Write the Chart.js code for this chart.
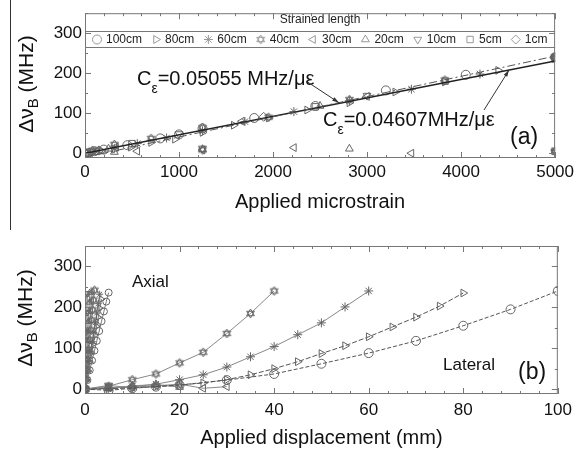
<!DOCTYPE html>
<html>
<head>
<meta charset="utf-8">
<script src="https://cdn.jsdelivr.net/npm/chart.js@4/dist/chart.umd.min.js"></script>
<style>
  body { margin: 0; background: #fff; }
  #wrap { position: relative; width: 578px; height: 452px; }
  .panel { position: absolute; left: 0; width: 578px; height: 226px; }
  #edge { position: absolute; left: 10px; top: 0; width: 1px; height: 230px; background: #333; }
</style>
</head>
<body>
<div id="wrap">
  <div class="panel" style="top:0"><canvas id="strainChart" width="578" height="226"></canvas></div>
  <div class="panel" style="top:226px"><canvas id="dispChart" width="578" height="226"></canvas></div>
  <div id="edge"></div>
</div>
<script>
const FONT = "'Liberation Sans', Arial, sans-serif";

// strained lengths, in legend order
const lengths = ['100cm', '80cm', '60cm', '40cm', '30cm', '20cm', '10cm', '5cm', '1cm'];

// (a) frequency shift vs applied microstrain, [microstrain, MHz]
const strain100 = [[0, 0], [50, 1], [100, 5], [200, 9], [450, 20], [800, 37], [1000, 47], [1250, 62], [1800, 88], [2450, 118], [3200, 157], [4050, 196], [5000, 240]];
const strain80 = [[20, 1], [78, 3], [176, 6], [312, 10], [488, 15], [703, 27], [957, 35], [1250, 52], [1582, 70], [1953, 88], [2363, 108], [2812, 126], [3300, 153], [3828, 178], [4394, 207], [5000, 236]];
const strain60 = [[35, 2], [139, 6], [312, 12], [556, 24], [868, 38], [1250, 56], [1701, 79], [2222, 104], [2812, 131], [3472, 160], [4201, 198], [5000, 240], [5000, 6]];
const strain40 = [[78, 7], [312, 22], [703, 37], [1250, 64], [1250, 8], [1953, 90], [2812, 134], [3828, 183], [5000, 241], [5000, 4]];
const strain30 = [[330, 15], [556, 5], [1250, 8], [1670, 80], [2222, 14], [3000, 142], [3472, 0], [5000, 238]];
const strain20 = [[250, 11], [312, 3], [1250, 10], [2500, 118], [2812, 11], [5000, 239], [5000, 5]];
const strain10 = [[60, 2], [1000, 48], [1250, 12], [3000, 144], [5000, 240], [5000, 3]];
const strain5 = [[120, 5], [500, 24], [2450, 116], [3830, 180], [5000, 240], [5000, 5]];
const strain1 = [[10, 0], [150, 7], [1900, 91], [5000, 240]];

// linear fits, slope in MHz per microstrain
const fitLow = 0.04607;
const fitHigh = 0.05055;
const fitHighOffset = -10;

// (b) frequency shift vs applied displacement, [mm, MHz]
const lateral100 = [[0, 0], [5, -3], [10, 2], [15, 6], [20, 10], [30, 22], [40, 37], [50, 62], [60, 88], [70, 118], [80, 155], [90, 195], [100, 240]];
const lateral80 = [[0, 0], [5, 1], [10, 3], [15, 6], [20, 10], [25, 15], [30, 23], [35, 35], [40, 50], [45, 67], [50, 87], [55, 106], [60, 128], [65, 152], [70, 176], [75, 203], [80, 235]];
const lateral60 = [[0, 0], [5, 2], [10, 6], [15, 12], [20, 23], [25, 35], [30, 54], [35, 79], [40, 104], [45, 133], [50, 162], [55, 201], [60, 240]];
const lateral40 = [[0, 0], [5, 7], [10, 23], [15, 37], [20, 64], [25, 90], [30, 136], [35, 185], [40, 240]];
const lateral30 = [[0, 0], [5, 3], [10, 5], [15, 8], [20, 12], [25, 2], [30, 6]];
const lateral20 = [[0, 0], [5, 2], [10, 8], [15, 11], [20, 5]];
const lateral10 = [[0, 0], [5, 9], [10, 3]];
const lateral5 = [[0, 0], [5, 4]];

const axial100 = [[0, 0], [0.5, 22], [1, 46], [1.5, 70], [2, 94], [2.5, 118], [3, 142], [3.5, 166], [4, 190], [4.5, 214], [5, 236]];
const axial80 = [[0, 0], [0.35, 22], [0.7, 44], [1.05, 66], [1.4, 88], [1.75, 110], [2.1, 132], [2.45, 154], [2.8, 176], [3.15, 198], [3.5, 220]];
const axial60 = [[0, 0], [0.31, 23], [0.62, 46], [0.93, 70], [1.24, 93], [1.55, 116], [1.86, 139], [2.17, 162], [2.48, 186], [2.79, 209], [3.1, 232]];
const axial40 = [[0, 0], [0.2, 24], [0.4, 48], [0.6, 73], [0.8, 97], [1.0, 121], [1.2, 145], [1.4, 169], [1.6, 194], [1.8, 218], [2.0, 242]];
const axial30 = [[0, 0], [0.15, 24], [0.3, 47], [0.45, 71], [0.6, 95], [0.75, 119], [0.9, 142], [1.05, 166], [1.2, 190], [1.35, 214], [1.5, 238]];
const axial20 = [[0, 0], [0.1, 24], [0.2, 47], [0.3, 71], [0.4, 94], [0.5, 118], [0.6, 142], [0.7, 165], [0.8, 189], [0.9, 212], [1.0, 236]];
const axial10 = [[0, 0], [0.1, 47], [0.2, 94], [0.3, 140], [0.4, 187], [0.5, 234]];
const axial5 = [[0, 0], [0.05, 46], [0.1, 93], [0.15, 139], [0.2, 186], [0.25, 232]];

const shiftTicks = [0, 100, 200, 300];

// open star-of-David marker
function hexagram(size, color) {
    const c = document.createElement('canvas');
    c.width = c.height = size;
    const g = c.getContext('2d');
    const r = size / 2 - 1;
    g.strokeStyle = color;
    g.lineWidth = 1;
    [-90, 90].forEach(start => {
        g.beginPath();
        for (let k = 0; k < 3; k++) {
            const a = (start + k * 120) * Math.PI / 180;
            const px = size / 2 + r * Math.cos(a), py = size / 2 + r * Math.sin(a);
            k ? g.lineTo(px, py) : g.moveTo(px, py);
        }
        g.closePath();
        g.stroke();
    });
    return c;
}

const markerColor = '#666';
const looks = {
    '100cm': { pointStyle: 'circle', rotation: 0 },
    '80cm': { pointStyle: 'triangle', rotation: 90 },
    '60cm': { pointStyle: 'star', rotation: 0 },
    '40cm': { pointStyle: hexagram(11, markerColor), rotation: 0 },
    '30cm': { pointStyle: 'triangle', rotation: 270 },
    '20cm': { pointStyle: 'triangle', rotation: 0 },
    '10cm': { pointStyle: 'triangle', rotation: 180 },
    '5cm': { pointStyle: 'rect', rotation: 0 },
    '1cm': { pointStyle: 'rectRot', rotation: 0 }
};

function markerSet(label, data, extra) {
    return Object.assign({
        label: label,
        data: data,
        pointStyle: looks[label].pointStyle,
        rotation: looks[label].rotation,
        pointRadius: 4.5,
        pointBorderWidth: 1,
        borderColor: markerColor,
        backgroundColor: 'rgba(0,0,0,0)',
        showLine: false
    }, extra || {});
}

// inward tick marks and the box around the plot
const boxTicks = {
    id: 'boxTicks',
    afterDraw(chart, args, opts) {
        const { ctx, chartArea: a, scales: { x, y } } = chart;
        ctx.save();
        ctx.strokeStyle = '#777';
        ctx.lineWidth = 1;
        ctx.strokeRect(a.left + 0.5, a.top + 0.5, a.width - 1, a.height - 1);
        ctx.beginPath();
        for (let v = x.min; v <= x.max + 1e-6; v += opts.minorX) {
            const px = Math.round(x.getPixelForValue(v)) + 0.5;
            const len = Math.abs(v / opts.majorX - Math.round(v / opts.majorX)) < 1e-6 ? 6 : 3;
            ctx.moveTo(px, a.bottom); ctx.lineTo(px, a.bottom - len);
            ctx.moveTo(px, a.top); ctx.lineTo(px, a.top + len);
        }
        for (let v = 0; v <= y.max + 1e-6; v += opts.minorY) {
            const py = Math.round(y.getPixelForValue(v)) + 0.5;
            const len = v % opts.majorY === 0 ? 6 : 3;
            ctx.moveTo(a.left, py); ctx.lineTo(a.left + len, py);
            ctx.moveTo(a.right, py); ctx.lineTo(a.right - len, py);
        }
        ctx.stroke();
        ctx.restore();
    }
};

function drawShiftTitle(ctx, cx, cy) {
    ctx.save();
    ctx.translate(cx, cy);
    ctx.rotate(-Math.PI / 2);
    ctx.fillStyle = '#111';
    ctx.textBaseline = 'middle';
    const big = '21px ' + FONT, small = '15px ' + FONT;
    ctx.font = big;
    const w1 = ctx.measureText('\u0394\u03bd').width;
    const w3 = ctx.measureText(' (MHz)').width;
    ctx.font = small;
    const w2 = ctx.measureText('B').width;
    let x = -(w1 + w2 + w3) / 2;
    ctx.font = big; ctx.fillText('\u0394\u03bd', x, 0); x += w1;
    ctx.font = small; ctx.fillText('B', x, 7); x += w2;
    ctx.font = big; ctx.fillText(' (MHz)', x, 0);
    ctx.restore();
}

function drawCoef(ctx, x, y, rest) {
    ctx.save();
    ctx.fillStyle = '#111';
    ctx.textBaseline = 'middle';
    ctx.font = '20px ' + FONT;
    ctx.fillText('C', x, y);
    x += ctx.measureText('C').width;
    ctx.font = '14px ' + FONT;
    ctx.fillText('\u03b5', x, y + 10);
    x += ctx.measureText('\u03b5').width;
    ctx.font = '20px ' + FONT;
    ctx.fillText(rest, x, y);
    ctx.restore();
}

function drawArrow(ctx, x1, y1, x2, y2) {
    const ang = Math.atan2(y2 - y1, x2 - x1);
    ctx.save();
    ctx.strokeStyle = '#333';
    ctx.fillStyle = '#333';
    ctx.lineWidth = 1;
    ctx.beginPath();
    ctx.moveTo(x1, y1);
    ctx.lineTo(x2, y2);
    ctx.stroke();
    ctx.beginPath();
    ctx.moveTo(x2, y2);
    ctx.lineTo(x2 - 7 * Math.cos(ang - 0.3), y2 - 7 * Math.sin(ang - 0.3));
    ctx.lineTo(x2 - 7 * Math.cos(ang + 0.3), y2 - 7 * Math.sin(ang + 0.3));
    ctx.closePath();
    ctx.fill();
    ctx.restore();
}

// legend box across the top of plot (a)
const lengthLegend = {
    id: 'lengthLegend',
    afterDraw(chart) {
        const { ctx, chartArea: a } = chart;
        const top = a.top, mid = 31.5, bottom = 47.5;
        ctx.save();
        ctx.fillStyle = '#fff';
        ctx.fillRect(a.left, top, a.width, bottom - top);
        ctx.strokeStyle = '#777';
        ctx.lineWidth = 1;
        ctx.beginPath();
        ctx.moveTo(a.left, mid); ctx.lineTo(a.right, mid);
        ctx.moveTo(a.left, bottom); ctx.lineTo(a.right, bottom);
        ctx.stroke();
        ctx.fillStyle = '#222';
        ctx.font = '12px ' + FONT;
        ctx.textAlign = 'center';
        ctx.textBaseline = 'middle';
        ctx.fillText('Strained length', 320, 20);
        ctx.textAlign = 'left';
        let x = a.left + 12;
        const rowY = 39.5;
        lengths.forEach(label => {
            const look = looks[label];
            ctx.strokeStyle = '#999';
            ctx.fillStyle = 'rgba(0,0,0,0)';
            Chart.helpers.drawPoint(ctx, {
                pointStyle: typeof look.pointStyle === 'string' ? look.pointStyle : hexagram(11, '#999'),
                rotation: look.rotation, radius: 4.5, borderWidth: 1
            }, x, rowY);
            ctx.fillStyle = '#222';
            ctx.fillText(label, x + 9, rowY);
            x += 9 + ctx.measureText(label).width + 14;
        });
        ctx.restore();
    }
};

const strainNotes = {
    id: 'strainNotes',
    afterDraw(chart) {
        const { ctx, scales: { x, y } } = chart;
        drawShiftTitle(ctx, 27, 84);
        drawCoef(ctx, 137, 79, '=0.05055 MHz/\u03bc\u03b5');
        drawCoef(ctx, 323, 120, '=0.04607MHz/\u03bc\u03b5');
        const hx = 2700, lx = 4510;
        drawArrow(ctx, 306, 81, x.getPixelForValue(hx), y.getPixelForValue(fitHigh * hx + fitHighOffset));
        drawArrow(ctx, 484, 110, x.getPixelForValue(lx), y.getPixelForValue(fitLow * lx));
        ctx.save();
        ctx.fillStyle = '#111';
        ctx.font = '23px ' + FONT;
        ctx.textBaseline = 'middle';
        ctx.fillText('(a)', 510, 138);
        ctx.restore();
    }
};

const dispNotes = {
    id: 'dispNotes',
    afterDraw(chart) {
        const ctx = chart.ctx;
        drawShiftTitle(ctx, 26, 92);
        ctx.save();
        ctx.fillStyle = '#111';
        ctx.textBaseline = 'middle';
        ctx.font = '17px ' + FONT;
        ctx.fillText('Axial', 132, 56);
        ctx.fillText('Lateral', 443, 139);
        ctx.font = '23px ' + FONT;
        ctx.fillText('(b)', 518, 147);
        ctx.restore();
    }
};

function axes(xMin, xMax, xStep, xTitle, xHeight, labelPad, titlePad) {
    return {
        x: {
            type: 'linear', min: xMin, max: xMax,
            grid: { display: false, drawTicks: false }, border: { display: false },
            ticks: {
                stepSize: xStep, padding: labelPad, color: '#111', maxRotation: 0,
                font: { family: FONT, size: 17 },
                callback: v => String(v)
            },
            title: { display: true, text: xTitle, color: '#111', font: { family: FONT, size: 20 }, padding: { top: 0, bottom: titlePad } },
            afterFit(s) { s.height = xHeight; }
        },
        y: {
            type: 'linear', min: -12, max: 350,
            grid: { display: false, drawTicks: false }, border: { display: false },
            afterBuildTicks(s) { s.ticks = shiftTicks.map(v => ({ value: v })); },
            ticks: { padding: 3, color: '#111', font: { family: FONT, size: 17 }, callback: v => String(v) },
            afterFit(s) { s.width = 85; }
        }
    };
}

const seriesA = [strain100, strain80, strain60, strain40, strain30, strain20, strain10, strain5, strain1];

new Chart(document.getElementById('strainChart'), {
    type: 'scatter',
    data: {
        datasets: [
            {
                label: 'fit high',
                data: [[0, fitHighOffset], [5000, fitHigh * 5000 + fitHighOffset]],
                showLine: true, pointRadius: 0, borderColor: '#555', borderWidth: 1, borderDash: [8, 3, 2, 3]
            },
            {
                label: 'fit low',
                data: [[0, 0], [5000, fitLow * 5000]],
                showLine: true, pointRadius: 0, borderColor: '#222', borderWidth: 1.4
            },
            ...lengths.map((l, i) => markerSet(l, seriesA[i]))
        ]
    },
    options: {
        responsive: false,
        animation: false,
        layout: { padding: { left: 0, right: 21, top: 10, bottom: 0 } },
        scales: axes(0, 5000, 1000, 'Applied microstrain', 68, 4, 12),
        plugins: {
            legend: { display: false },
            tooltip: { enabled: false },
            boxTicks: { minorX: 200, majorX: 1000, minorY: 50, majorY: 100 }
        }
    },
    plugins: [lengthLegend, boxTicks, strainNotes]
});

const lateralSets = [lateral100, lateral80, lateral60, lateral40, lateral30, lateral20, lateral10, lateral5];
const axialSets = [axial100, axial80, axial60, axial40, axial30, axial20, axial10, axial5];
const lateralDash = [[4, 2], [5, 2], [], [], [], [], [], []];

new Chart(document.getElementById('dispChart'), {
    type: 'scatter',
    data: {
        datasets: [
            ...lateralSets.map((d, i) => markerSet(lengths[i], d, {
                showLine: true, borderWidth: 1, borderDash: lateralDash[i],
                borderColor: i < 2 ? '#555' : '#888', pointBorderColor: markerColor
            })),
            ...axialSets.map((d, i) => markerSet(lengths[i], d, {
                showLine: true, borderWidth: 1, borderColor: '#777', pointBorderColor: markerColor, pointRadius: 3.5
            }))
        ]
    },
    options: {
        responsive: false,
        animation: false,
        layout: { padding: { left: 0, right: 20, top: 20, bottom: 0 } },
        scales: axes(0, 100, 20, 'Applied displacement (mm)', 58, 6, 2),
        plugins: {
            legend: { display: false },
            tooltip: { enabled: false },
            boxTicks: { minorX: 4, majorX: 20, minorY: 50, majorY: 100 }
        }
    },
    plugins: [boxTicks, dispNotes]
});
</script>
</body>
</html>
